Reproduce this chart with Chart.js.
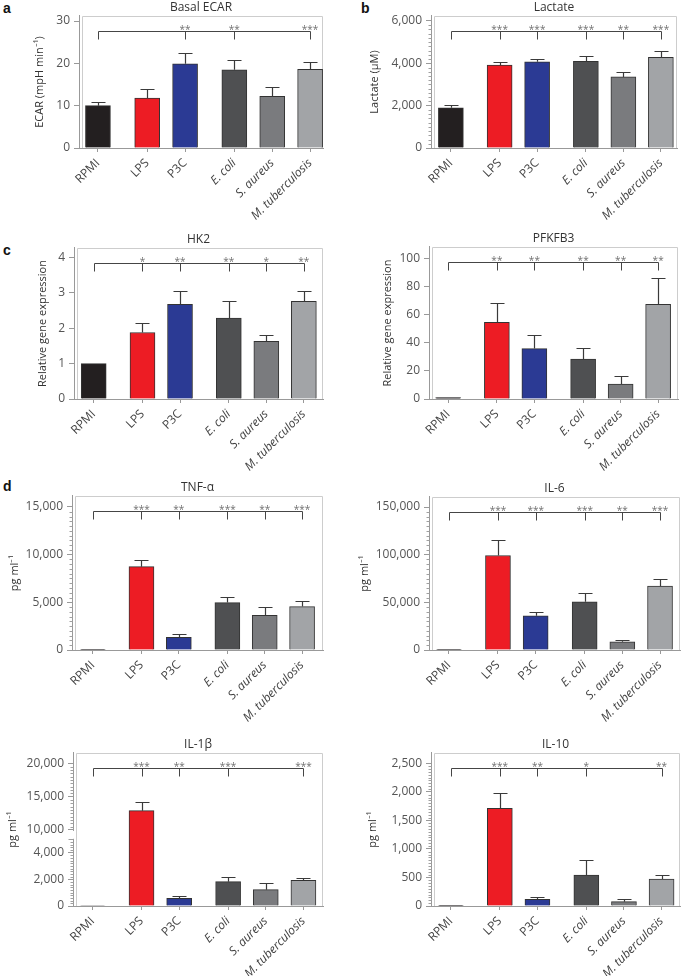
<!DOCTYPE html>
<html><head><meta charset="utf-8">
<script src="https://cdn.jsdelivr.net/npm/chart.js@4.4.1/dist/chart.umd.min.js"></script>
<style>
html,body{margin:0;padding:0;background:#fff;}
body{width:685px;height:976px;position:relative;overflow:hidden;font-family:'Open Sans',sans-serif;}
.panel{position:absolute;}
.lbl{position:absolute;font-family:'Liberation Sans',Arial,sans-serif;font-weight:bold;font-size:14px;color:#111;line-height:1;}
</style></head><body>
<div class="lbl" style="left:3px;top:1px">a</div>
<div class="lbl" style="left:361px;top:1px">b</div>
<div class="lbl" style="left:3px;top:243px">c</div>
<div class="lbl" style="left:3px;top:479px">d</div>
<script>
// ---------- data ----------
const categories = ['RPMI', 'LPS', 'P3C', 'E. coli', 'S. aureus', 'M. tuberculosis'];
const conditionGroup = [0, 1, 1, 2, 2, 2];
const barColors = ['#231f20', '#ed1c24', '#2b3a94', '#4f5052', '#7a7b7e', '#a2a4a7'];

const ecarMean = [10.0, 11.8, 19.9, 18.5, 12.2, 18.6];
const ecarErr  = [0.9, 2.2, 2.6, 2.2, 2.2, 1.7];
const ecarSig  = ['', '', '**', '**', '', '***'];
const ecarTicks = [0, 10, 20, 30];

const lactateMean = [1900, 3920, 4070, 4090, 3360, 4280];
const lactateErr  = [110, 160, 140, 250, 220, 285];
const lactateSig  = ['', '***', '***', '***', '**', '***'];
const lactateTicks = [0, 2000, 4000, 6000];

const hk2Mean = [1.0, 1.88, 2.68, 2.29, 1.63, 2.76];
const hk2Err  = [0, 0.28, 0.36, 0.47, 0.17, 0.30];
const hk2Sig  = ['', '*', '**', '**', '*', '**'];
const hk2Ticks = [0, 1, 2, 3, 4];

const pfkfb3Mean = [1.0, 54.6, 35.9, 28.4, 10.6, 67.4];
const pfkfb3Err  = [0, 13.7, 9.7, 8.0, 5.5, 18.4];
const pfkfb3Sig  = ['', '**', '**', '**', '**', '**'];
const pfkfb3Ticks = [0, 20, 40, 60, 80, 100];

const tnfMean = [80, 8740, 1330, 4970, 3640, 4550];
const tnfErr  = [0, 660, 310, 560, 910, 600];
const tnfSig  = ['', '***', '**', '***', '**', '***'];
const tnfTicks = [0, 5000, 10000, 15000];

const il6Mean = [400, 99100, 35900, 50600, 8700, 67000];
const il6Err  = [0, 16000, 4200, 9100, 2100, 8000];
const il6Sig  = ['', '***', '***', '***', '**', '***'];
const il6Ticks = [0, 50000, 100000, 150000];

const il1bMean = [40, 12900, 575, 1825, 1225, 1925];
const il1bErr  = [0, 1350, 175, 325, 475, 200];
const il1bSig  = ['', '***', '**', '***', '', '***'];
const il1bTicks = [0, 2000, 4000, 10000, 15000, 20000];
const il1bAxisBreak = [5000, 10000];

const il10Mean = [5, 1711, 117, 543, 76, 473];
const il10Err  = [0, 263, 35, 270, 41, 64];
const il10Sig  = ['', '***', '**', '*', '', '**'];
const il10Ticks = [0, 500, 1000, 1500, 2000, 2500];

// ---------- layout ----------
const FONT = "'Open Sans', sans-serif";
const GROUP_GAP = 0.3;
const xPos = categories.map((c, i) => i + GROUP_GAP * conditionGroup[i]);
const fmt = v => v.toLocaleString('en-US');

const panels = [
  {title: 'Basal ECAR', yTitle: 'ECAR (mpH min\u207B\u00B9)', mean: ecarMean, err: ecarErr, sig: ecarSig, ticks: ecarTicks,
   col: 0, box: [79, 323, 16, 148], yTitleX: 40, yMax: 31.2, xMin: -0.5, xMax: 5.94, minor: null},
  {title: 'Lactate', yTitle: 'Lactate (\u00B5M)', mean: lactateMean, err: lactateErr, sig: lactateSig, ticks: lactateTicks,
   col: 1, box: [431, 677, 16, 148], yTitleX: 375, yMax: 6236, xMin: -0.53, xMax: 6.03, minor: 200},
  {title: 'HK2', yTitle: 'Relative gene expression', mean: hk2Mean, err: hk2Err, sig: hk2Sig, ticks: hk2Ticks,
   col: 0, box: [74, 323, 248, 399], yTitleX: 43, yMax: 4.27, xMin: -0.525, xMax: 6.11, minor: null},
  {title: 'PFKFB3', yTitle: 'Relative gene expression', mean: pfkfb3Mean, err: pfkfb3Err, sig: pfkfb3Sig, ticks: pfkfb3Ticks,
   col: 1, box: [429, 678, 247, 399], yTitleX: 388, yMax: 108.2, xMin: -0.51, xMax: 6.13, minor: null},
  {title: 'TNF-\u03B1', yTitle: 'pg ml\u207B\u00B9', mean: tnfMean, err: tnfErr, sig: tnfSig, ticks: tnfTicks,
   col: 0, box: [72, 323, 496, 650], yTitleX: 15, yMax: 16150, xMin: -0.56, xMax: 6.16, minor: 500},
  {title: 'IL-6', yTitle: 'pg ml\u207B\u00B9', mean: il6Mean, err: il6Err, sig: il6Sig, ticks: il6Ticks,
   col: 1, box: [429, 680, 497, 650], yTitleX: 365, yMax: 160500, xMin: -0.53, xMax: 6.13, minor: 5000},
  {title: 'IL-1\u03B2', yTitle: 'pg ml\u207B\u00B9', mean: il1bMean, err: il1bErr, sig: il1bSig, ticks: il1bTicks,
   col: 0, box: [73, 323, 753, 906], yTitleX: 13, yMax: 21550, xMin: -0.52, xMax: 6.12, minor: [200, 500],
   broken: {lowMax: il1bAxisBreak[0], highMin: il1bAxisBreak[1], lowFrac: 0.436, gapFrac: 0.061}},
  {title: 'IL-10', yTitle: 'pg ml\u207B\u00B9', mean: il10Mean, err: il10Err, sig: il10Sig, ticks: il10Ticks,
   col: 1, box: [431, 680, 753, 906], yTitleX: 373, yMax: 2680, xMin: -0.53, xMax: 6.09, minor: 50}
];

// ---------- broken linear scale ----------
const BREAK = panels[6].broken;
class BrokenLinearScale extends Chart.LinearScale {
  getPixelForValue(value) {
    const b = BREAK, H = this.bottom - this.top;
    const upFrac = 1 - b.lowFrac - b.gapFrac;
    let f;
    if (value <= b.lowMax) f = (value - this.min) / (b.lowMax - this.min) * b.lowFrac;
    else if (value >= b.highMin) f = b.lowFrac + b.gapFrac + (value - b.highMin) / (this.max - b.highMin) * upFrac;
    else f = b.lowFrac + (value - b.lowMax) / (b.highMin - b.lowMax) * b.gapFrac;
    return this.bottom - f * H;
  }
  getValueForPixel(pixel) {
    const b = BREAK, H = this.bottom - this.top;
    const f = (this.bottom - pixel) / H;
    const upFrac = 1 - b.lowFrac - b.gapFrac;
    if (f <= b.lowFrac) return this.min + f / b.lowFrac * (b.lowMax - this.min);
    if (f >= b.lowFrac + b.gapFrac) return b.highMin + (f - b.lowFrac - b.gapFrac) / upFrac * (this.max - b.highMin);
    return b.lowMax + (f - b.lowFrac) / b.gapFrac * (b.highMin - b.lowMax);
  }
}
BrokenLinearScale.id = 'brokenLinear';
BrokenLinearScale.defaults = {};
Chart.register(BrokenLinearScale);

// ---------- extras plugin: frame, error bars, brackets, minor ticks ----------
const extrasPlugin = {
  id: 'extras',
  beforeDatasetsDraw(chart, args, o) {
    const a = chart.chartArea, ctx = chart.ctx;
    ctx.save();
    ctx.strokeStyle = '#cdcdcd'; ctx.lineWidth = 1;
    const l = Math.round(a.left) + 3.5, r = Math.round(a.right) - 0.5, t = Math.round(a.top) + 0.5, b = Math.round(a.bottom);
    ctx.beginPath();
    ctx.moveTo(l, b); ctx.lineTo(l, t); ctx.lineTo(r, t); ctx.lineTo(r, b);
    ctx.stroke();
    ctx.restore();
  },
  afterDatasetsDraw(chart, args, o) {
    const p = o.panel; if (!p) return;
    const ctx = chart.ctx, ys = chart.scales.y, meta = chart.getDatasetMeta(0), a = chart.chartArea;
    ctx.save();
    ctx.strokeStyle = '#3a3a3a'; ctx.lineWidth = 1.2;
    p.err.forEach((e, i) => {
      if (!e) return;
      const bx = Math.round(meta.data[i].x) + 0.5;
      const y0 = ys.getPixelForValue(p.mean[i]);
      const y1 = Math.round(ys.getPixelForValue(p.mean[i] + e)) + 0.5;
      ctx.beginPath();
      ctx.moveTo(bx, y0); ctx.lineTo(bx, y1);
      ctx.moveTo(bx - 7, y1); ctx.lineTo(bx + 7, y1);
      ctx.stroke();
    });
    const idx = p.sig.map((s, i) => s ? i : -1).filter(i => i >= 0);
    const by = Math.round(a.top + 15) + 0.5;
    const x0 = Math.round(meta.data[0].x) + 0.5;
    const xl = Math.round(meta.data[idx[idx.length - 1]].x) + 0.5;
    ctx.strokeStyle = '#454545'; ctx.lineWidth = 1;
    ctx.beginPath();
    ctx.moveTo(x0, by + 8); ctx.lineTo(x0, by); ctx.lineTo(xl, by);
    idx.forEach(i => { const xx = Math.round(meta.data[i].x) + 0.5; ctx.moveTo(xx, by); ctx.lineTo(xx, by + 8); });
    ctx.stroke();
    ctx.fillStyle = '#707070'; ctx.font = '10px ' + FONT; ctx.textAlign = 'center'; ctx.textBaseline = 'alphabetic';
    idx.forEach(i => ctx.fillText(p.sig[i], meta.data[i].x, by + 1));
    ctx.restore();
  },
  afterDraw(chart, args, o) {
    const p = o.panel; if (!p) return;
    const ctx = chart.ctx, ys = chart.scales.y, a = chart.chartArea;
    const ax = Math.round(a.left) + 0.5;
    ctx.save();
    ctx.strokeStyle = '#a0a0a0'; ctx.lineWidth = 1;
    const majorMax = Math.max(...p.ticks);
    const vals = [];
    if (Array.isArray(p.minor)) {
      for (let k = 1; k * p.minor[0] < p.broken.lowMax; k++) vals.push(k * p.minor[0]);
      for (let k = 1; p.broken.highMin + k * p.minor[1] <= majorMax; k++) vals.push(p.broken.highMin + k * p.minor[1]);
    } else if (p.minor) {
      for (let k = 1; k * p.minor <= majorMax; k++) vals.push(k * p.minor);
    }
    ctx.beginPath();
    vals.filter(v => !p.ticks.includes(v)).forEach(v => {
      const py = Math.round(ys.getPixelForValue(v)) + 0.5;
      ctx.moveTo(ax - 3, py); ctx.lineTo(ax, py);
    });
    ctx.stroke();
    if (p.broken) {
      const yTop = ys.getPixelForValue(p.broken.highMin);
      const yBot = ys.getPixelForValue(p.broken.lowMax);
      ctx.fillStyle = '#fff';
      ctx.fillRect(ax - 1.5, yTop + 1, 3, yBot - yTop - 1.5);
      ctx.beginPath();
      const yb = Math.round(yBot) + 0.5;
      ctx.moveTo(ax - 5, yb); ctx.lineTo(ax, yb);
      ctx.stroke();
    }
    ctx.restore();
  }
};

// ---------- build charts ----------
const TH = 16, XH = 80, PR = 3;
panels.forEach(p => {
  const L = p.col === 0 ? 0 : 340;
  const [pl, pr, pt, pb] = p.box;
  const padLeft = p.yTitleX - L - 6.6;
  const yw = pl - L - padLeft;
  const W = pr - L + PR;
  const H = TH + (pb - pt) + XH;
  const div = document.createElement('div');
  div.className = 'panel';
  div.style.cssText = `left:${L}px;top:${pt - TH}px;width:${W}px;height:${H}px;`;
  const cv = document.createElement('canvas');
  div.appendChild(cv);
  document.body.appendChild(div);
  new Chart(cv, {
    type: 'bar',
    data: {
      datasets: [{
        data: p.mean.map((v, i) => ({x: xPos[i], y: v})),
        backgroundColor: barColors,
        borderColor: '#333333',
        borderWidth: 1,
        barThickness: 25
      }]
    },
    options: {
      responsive: true, maintainAspectRatio: false, animation: false,
      layout: {padding: {left: padLeft, right: PR, top: 0, bottom: 0}},
      plugins: {
        legend: {display: false},
        tooltip: {enabled: false},
        title: {display: true, text: p.title, fullSize: false, color: '#333',
                font: {family: FONT, size: 12, weight: 'normal', lineHeight: 1.2},
                padding: {top: 0, bottom: TH - 14.4}},
        extras: {panel: p}
      },
      scales: {
        x: {
          type: 'linear', min: p.xMin, max: p.xMax, offset: false,
          afterBuildTicks: s => { s.ticks = xPos.map(v => ({value: v})); },
          afterFit: s => { s.height = XH; },
          grid: {offset: false, drawOnChartArea: false, drawTicks: true, tickLength: 4, color: '#999'},
          border: {color: '#999', width: 1},
          ticks: {
            autoSkip: false, minRotation: 45, maxRotation: 45, padding: 4, color: '#444',
            font: c => ({family: FONT, size: 12, style: c.index >= 3 ? 'italic' : 'normal'}),
            callback: (v, i) => categories[i]
          }
        },
        y: {
          type: p.broken ? 'brokenLinear' : 'linear', min: 0, max: p.yMax,
          afterBuildTicks: s => { s.ticks = p.ticks.map(v => ({value: v})); },
          afterFit: s => { s.width = yw; },
          grid: {drawOnChartArea: false, drawTicks: true, tickLength: 5, color: '#999'},
          border: {color: '#999', width: 1},
          ticks: {padding: 4, color: '#555', font: {family: FONT, size: 12}, callback: v => fmt(v)},
          title: {display: true, text: p.yTitle, color: '#333', font: {family: FONT, size: 11, lineHeight: 1.2}, padding: 0}
        }
      }
    },
    plugins: [extrasPlugin]
  });
});
</script>
</body></html>
